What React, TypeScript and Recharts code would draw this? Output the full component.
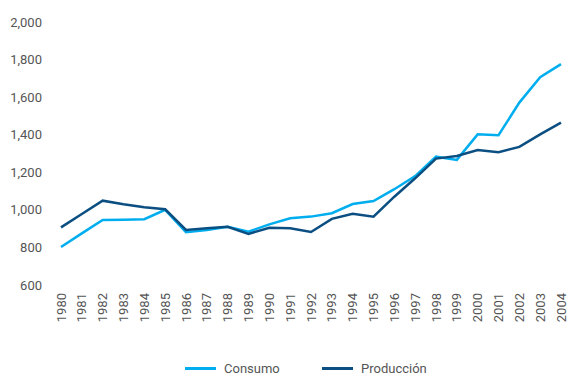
import React from 'react';
import { LineChart, Line, XAxis, YAxis, Legend } from 'recharts';

const years = ['1980','1981','1982','1983','1984','1985','1986','1987','1988','1989','1990','1991','1992','1993','1994','1995','1996','1997','1998','1999','2000','2001','2002','2003','2004'];
const consumo = [802, 875, 946, 948, 950, 1000, 881, 893, 910, 884, 923, 955, 964, 982, 1031, 1047, 1110, 1180, 1283, 1266, 1402, 1397, 1571, 1706, 1776];
const produccion = [907, 978, 1049, 1030, 1014, 1003, 893, 902, 910, 872, 905, 902, 882, 952, 979, 964, 1070, 1168, 1273, 1287, 1319, 1307, 1335, 1402, 1464];
const yTicks = [600, 800, 1000, 1200, 1400, 1600, 1800, 2000];

const data = years.map((y, i) => ({ year: y, Consumo: consumo[i], Produccion: produccion[i] }));

const C1 = '#00AEEF';
const C2 = '#0B4F82';
const TXT = '#555555';
const FONT = 'Roboto, sans-serif';

const XTick = (props: any) => {
  const { x, y, payload } = props;
  return (
    <text x={x} y={y} transform={`rotate(-90, ${x}, ${y})`} textAnchor="end" dominantBaseline="central" fill={TXT} fontSize={13} fontFamily={FONT}>
      {payload.value}
    </text>
  );
};

const fmt = (v: number) => v.toLocaleString('en-US');

const LegendContent = () => (
  <div style={{ height: 20, position: 'relative', fontFamily: FONT, fontSize: 13, color: TXT }}>
    {[{ n: 'Consumo', c: C1, x: 185 }, { n: 'Producción', c: C2, x: 322 }].map((it) => (
      <div key={it.n} style={{ position: 'absolute', left: it.x, top: 4, display: 'flex', alignItems: 'center', height: 20 }}>
        <div style={{ width: 31, height: 3, background: it.c, marginRight: 8 }} />
        <span>{it.n}</span>
      </div>
    ))}
  </div>
);

export default function App() {
  return (
    <div style={{ position: 'absolute', left: 0, top: 0, background: '#fff' }}>
      <LineChart width={569} height={374} data={data} margin={{ top: 22, right: 8, bottom: 0, left: 0 }}>
        <XAxis dataKey="year" axisLine={false} tickLine={false} tick={<XTick />} interval={0} height={69} padding={{ left: 0, right: 0 }} />
        <YAxis domain={[600, 2000]} ticks={yTicks} axisLine={false} tickLine={false} width={61} tickMargin={13} tickFormatter={fmt} tick={{ fill: TXT, fontSize: 13, fontFamily: FONT }} />
        <Legend verticalAlign="bottom" content={<LegendContent />} wrapperStyle={{ left: 0, width: 569 }} />
        <Line type="linear" dataKey="Consumo" stroke={C1} strokeWidth={2.5} dot={false} isAnimationActive={false} />
        <Line type="linear" dataKey="Produccion" name="Producción" stroke={C2} strokeWidth={2.5} dot={false} isAnimationActive={false} />
      </LineChart>
    </div>
  );
}
